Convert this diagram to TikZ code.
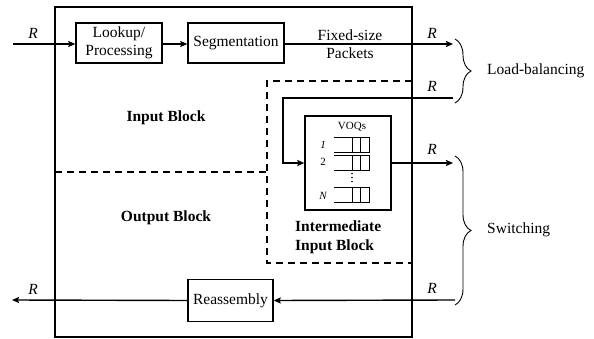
\documentclass[tikz,border=0pt]{standalone}
\usepackage{fontspec}
\setmainfont{Liberation Serif}
\usetikzlibrary{arrows.meta,decorations.pathreplacing}
\begin{document}
\begin{tikzpicture}[x=1pt,y=-1pt,
  mainfont/.style={font=\fontsize{15.5}{18}\selectfont},
  boldfont/.style={font=\fontsize{15.5}{19}\selectfont\bfseries},
  rlabel/.style={font=\fontsize{15.5}{18}\selectfont\itshape},
  smallfont/.style={font=\fontsize{11}{13}\selectfont},
  box/.style={draw,line width=1.4pt,inner sep=0pt,mainfont,align=center},
  conn/.style={line width=1.4pt,-{Stealth[length=7pt,width=6pt,inset=1pt]}},
  plain/.style={line width=1.4pt},
  dsh/.style={line width=1.4pt,dash pattern=on 7pt off 5pt},
  qline/.style={line width=0.9pt},
  bracestyle/.style={line width=0.9pt,decorate,decoration={brace,amplitude=16pt}}
]
\useasboundingbox (0,0) rectangle (594,339);

% main box
\draw[line width=2pt] (55,7) rectangle (412,337);

% dashed separators
\draw[dsh] (55,172) -- (267,172);
\draw[dsh] (412,81) -- (267,81) -- (267,263) -- (412,263);

% boxes
\node[box,minimum width=86pt,minimum height=40pt] (look) at (119,43) {Lookup/\\Processing};
\node[box,minimum width=96pt,minimum height=40pt] (seg) at (236,43) {Segmentation};
\node[box,minimum width=85pt,minimum height=42pt] (reas) at (230.5,300.5) {Reassembly};
\node[box,minimum width=86pt,minimum height=94pt] (voq) at (348,163) {};

% VOQ contents
\node[smallfont] (voqs) at (352,127) {VOQs};
\foreach \t in {137,155,187}{
  \draw[qline] (334,\t) -- (369,\t) -- (369,\t+15) -- (334,\t+15);
  \draw[qline] (352,\t) -- (352,\t+15);
  \draw[qline] (360,\t) -- (360,\t+15);
}
\foreach \d in {173.5,177.5,181.5}{\fill (352,\d) circle (0.9pt);}
\node[smallfont,font=\fontsize{11}{13}\selectfont\itshape] (q1) at (323,145) {1};
\node[smallfont] (q2) at (323,162) {2};
\node[smallfont,font=\fontsize{11}{13}\selectfont\itshape] (qn) at (323,196) {N};

% endpoints
\coordinate (inL) at (13,44);
\coordinate (lbOut) at (453,44);
\coordinate (lbIn) at (453,98);
\coordinate (turn) at (283,98);
\coordinate (swOut) at (453,163);
\coordinate (swIn) at (455,300);
\coordinate (outL) at (12,300);

% connectors
\draw[conn] (inL) -- (look.west |- inL);
\draw[conn] (look.east |- inL) -- (seg.west |- inL);
\draw[conn] (seg.east |- inL) -- (lbOut);
\draw[conn] (lbIn) -- (turn) |- (voq.west);
\draw[conn] (voq.east) -- (swOut);
\draw[conn] (swIn) -- (reas.east);
\draw[conn] (reas.west) -- (outL);

% labels
\node[rlabel] (r1) at (33,33) {R};
\node[rlabel] (r2) at (432,33) {R};
\node[rlabel] (r3) at (432,86) {R};
\node[rlabel] (r4) at (432,149) {R};
\node[rlabel] (r5) at (432,288) {R};
\node[rlabel] (r6) at (33,289) {R};
\node[mainfont,align=center] (fsp) at (350,44) {Fixed-size\\Packets};

\node[boldfont] (ib) at (166,118) {Input Block};
\node[boldfont] (ob) at (166,218) {Output Block};
\node[boldfont,anchor=west,align=left,inner sep=0pt] (iib) at (295,237.5) {Intermediate\\Input Block};

% braces
\draw[bracestyle] (455,39) -- (455,103);
\draw[bracestyle] (455,156) -- (455,305);
\node[mainfont,anchor=west,inner sep=0pt] (lb) at (487,71) {Load-balancing};
\node[mainfont,anchor=west,inner sep=0pt] (sw) at (487,230) {Switching};
\end{tikzpicture}
\end{document}
